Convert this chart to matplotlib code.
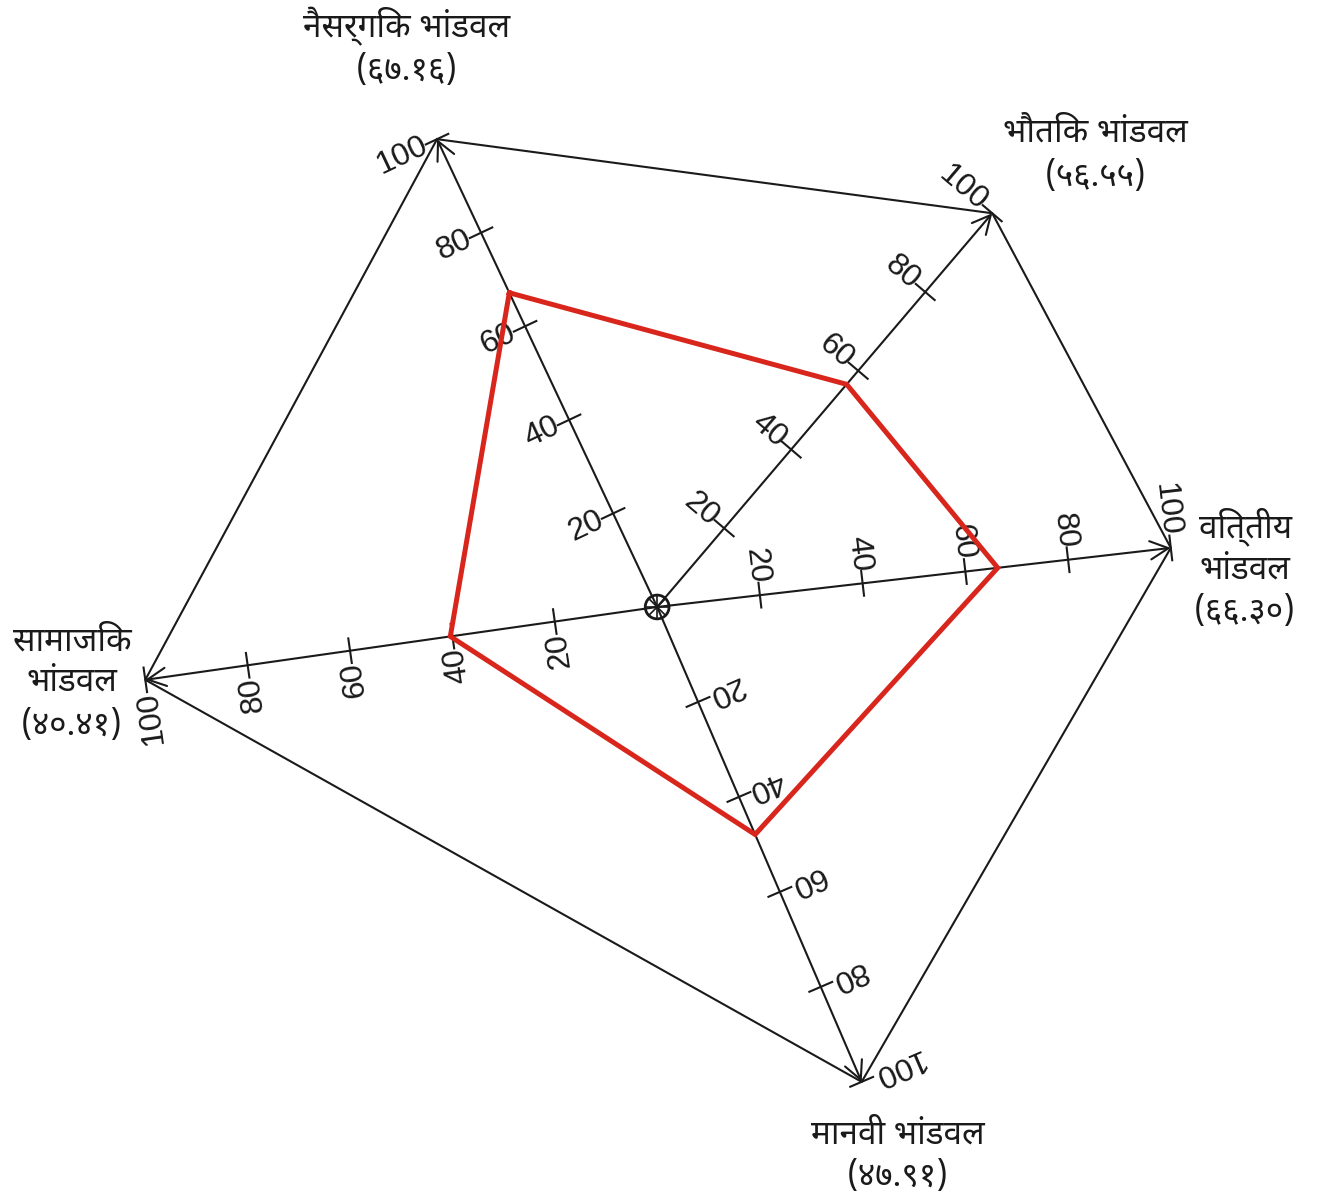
import matplotlib
matplotlib.use("Agg")
import matplotlib.pyplot as plt
import numpy as np
from matplotlib import font_manager

# Pick a Devanagari font that is actually installed
available = {f.name for f in font_manager.fontManager.ttflist}
deva_font = "DejaVu Sans"
for name in ["Noto Sans Devanagari", "Hind", "Mukta", "Poppins", "Yantramanav", "Martel Sans"]:
    if name in available:
        deva_font = name
        break

# Data
capitals = ["नैसर्गिक भांडवल", "भौतिक भांडवल", "वित्तीय\nभांडवल", "मानवी भांडवल", "सामाजिक\nभांडवल"]
value_labels = ["(६७.१६)", "(५६.५५)", "(६६.३०)", "(४७.९१)", "(४०.४१)"]
values = [67.16, 56.55, 66.30, 47.91, 40.41]
axis_angles = [115.2, 49.6, 6.56, -66.7, 188.1]   # degrees, as drawn in the reference
tick_values = [20, 40, 60, 80, 100]

# label placement (data units, centre at 0,0, axis length 100)
title_pos = [(-48.4, 112.2), (84.7, 91.7), (113.7, 11.7), (46.6, -102.1), (-113.2, -10.6)]
value_pos = [(-48.4, 103.5), (84.7, 83.0), (113.7, -1.0), (46.6, -110.3), (-113.2, -23.2)]

fig = plt.figure(figsize=(13.35, 12), dpi=100)
ax = fig.add_axes([0, 0, 1, 1])
ax.set_xlim(-127.1, 131.1)
ax.set_ylim(-114.7, 117.4)
ax.set_aspect("equal")
ax.axis("off")

theta = np.radians(axis_angles)
ux, uy = np.cos(theta), np.sin(theta)

# outer polygon through the 100 ends
ox = np.append(100 * ux, 100 * ux[0])
oy = np.append(100 * uy, 100 * uy[0])
ax.plot(ox, oy, color="#1a1a1a", lw=1.5, zorder=2)

for i in range(len(values)):
    # axis with arrow
    ax.annotate("", xy=(100 * ux[i], 100 * uy[i]), xytext=(0, 0),
                arrowprops=dict(arrowstyle="->, head_length=0.6, head_width=0.3",
                                lw=1.5, color="#1a1a1a", shrinkA=0, shrinkB=0,
                                mutation_scale=22), zorder=2)
    px, py = -uy[i], ux[i]   # perpendicular
    rot = axis_angles[i] - 90
    for t in tick_values:
        cx, cy = t * ux[i], t * uy[i]
        ax.plot([cx - 2.4 * px, cx + 2.4 * px], [cy - 2.4 * py, cy + 2.4 * py],
                color="#1a1a1a", lw=1.5, zorder=2)
        lx, ly = cx + 2.3 * px, cy + 2.3 * py
        ax.text(lx, ly, str(t), rotation=rot, rotation_mode="anchor",
                ha="right", va="center", fontsize=23,
                family="Liberation Sans", color="#1a1a1a", zorder=3)
    ax.text(*title_pos[i], capitals[i], ha="center", va="center", fontsize=24,
            family=[deva_font, "DejaVu Sans"], color="#1a1a1a", linespacing=1.3)
    ax.text(*value_pos[i], value_labels[i], ha="center", va="center", fontsize=24,
            family=[deva_font, "DejaVu Sans"], color="#1a1a1a")

# red data polygon
vals = np.array(values)
rx = np.append(vals * ux, vals[0] * ux[0])
ry = np.append(vals * uy, vals[0] * uy[0])
ax.plot(rx, ry, color="#d9261c", lw=3.6, zorder=4, solid_joinstyle="miter")

# centre mark
circ = plt.Circle((0, 0), 2.3, fill=False, lw=2, color="#1a1a1a", zorder=5)
ax.add_patch(circ)
for a in np.radians([0, 45, 90, 135]):
    ax.plot([-2.2 * np.cos(a), 2.2 * np.cos(a)], [-2.2 * np.sin(a), 2.2 * np.sin(a)],
            color="#1a1a1a", lw=1.2, zorder=5)

fig.savefig("out.png", dpi=100, facecolor="white")
